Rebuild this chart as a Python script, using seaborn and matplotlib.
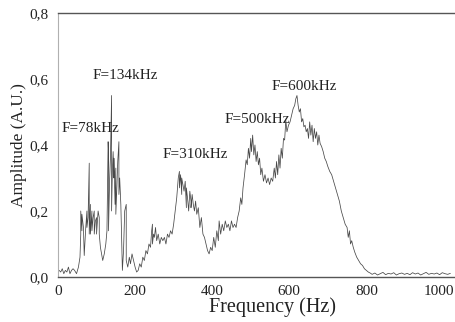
import matplotlib
matplotlib.use("Agg")
import matplotlib.pyplot as plt
import matplotlib.transforms as mtransforms
import seaborn as sns
import pandas as pd

# ---- data ----
freq = [
    3, 7, 11, 15, 19, 23, 27, 31, 35, 39, 43,
    48, 53, 57, 59, 59, 62, 62, 66, 68, 72, 75, 75, 78, 81, 81, 84, 84, 88, 88, 91,
    94, 94, 97, 100, 100, 104, 107, 107, 110, 113, 116, 120, 124,
    127, 130, 131, 131, 134, 136, 139, 139, 141, 143, 145, 145, 148, 150, 150, 153,
    155, 158, 158, 160, 163, 165, 167, 170, 173, 177, 177, 181, 185, 188, 192, 196, 200, 204,
    208, 212, 216, 220, 224, 228, 232, 236, 240, 243, 245, 245, 248, 250, 253, 256,
    260, 264, 268, 272, 276, 280, 284, 288, 292, 296, 300, 304, 308,
    312, 315, 315, 318, 321, 321, 324, 327, 330, 333, 333, 336, 339, 342, 345, 345,
    348, 351, 354, 357, 360, 364, 368, 372, 376, 380, 384, 388, 392, 396, 400,
    404, 408, 412, 416, 418, 422, 426, 430, 434, 438, 442, 446, 450, 454, 458, 462, 466, 470,
    474, 477, 480, 484, 488, 491, 494, 497, 500, 502, 505, 508, 511, 514, 517, 520,
    523, 526, 529, 533, 537, 541, 545, 549, 553, 557,
    561, 564, 567, 570, 573, 576, 579, 582, 585, 588, 591, 594, 598, 602, 606, 610,
    614, 617, 620, 623,
    626, 629, 632, 635, 638, 641, 644, 647, 650, 653, 656, 659, 662, 665, 668, 671,
    674, 677, 680, 684, 688, 692, 696, 700,
    705, 710, 715, 720, 725, 730, 735, 740, 745, 750, 753, 756, 759, 762, 766, 770,
    775, 780, 785, 790, 795, 800, 805, 810,
    815, 822, 829, 836, 843, 850, 857, 864, 871, 878, 885, 892, 899, 906, 913, 920,
    927, 934, 941, 948, 955, 962, 969, 976, 983, 990, 997, 1004, 1011, 1018,
]
amplitude = [
    .02, .015, .025, .01, .02, .015, .03, .01, .02, .025, .02,
    .01, .03, .06, .13, .20, .14, .19, .15, .065, .15, .20, .15, .18, .345, .13, .22, .13, .20, .14, .18,
    .20, .13, .17, .18, .13, .20, .18, .13, .09, .07, .05, .07, .10,
    .14, .41, .38, .14, .30, .36, .55, .20, .32, .38, .30, .36, .22, .33, .19, .28,
    .35, .41, .25, .30, .22, .12, .02, .08, .20, .22, .05, .03, .06, .04, .07, .05, .03, .015,
    .02, .04, .03, .06, .05, .08, .07, .10, .09, .14, .16, .10, .13, .12, .15, .11,
    .13, .10, .12, .11, .12, .10, .13, .12, .14, .13, .16, .20, .24,
    .30, .32, .27, .31, .25, .30, .28, .26, .29, .21, .27, .24, .20, .26, .23, .21,
    .25, .22, .20, .23, .19, .21, .15, .18, .13, .12, .10, .08, .07, .09, .08,
    .12, .09, .14, .11, .17, .13, .16, .14, .17, .15, .16, .14, .17, .15, .16, .15, .18, .20,
    .24, .22, .27, .31, .355, .34, .39, .36, .42, .38, .43, .37, .40, .35, .38, .34,
    .36, .31, .33, .29, .31, .285, .30, .28, .30, .29,
    .33, .30, .35, .31, .37, .33, .39, .36, .42, .415, .475, .44, .46, .47, .49, .51,
    .52, .54, .55, .52,
    .50, .51, .47, .48, .455, .46, .44, .45, .42, .47, .43, .46, .41, .45, .42, .44,
    .40, .43, .405, .395, .38, .36, .35, .335,
    .32, .31, .29, .27, .25, .23, .20, .18, .16, .15, .12, .14, .10, .11, .09, .075,
    .06, .05, .04, .035, .025, .02, .015, .012,
    .008, .012, .006, .01, .014, .007, .011, .009, .013, .006, .01, .012, .008, .011, .007, .013,
    .009, .012, .006, .01, .014, .008, .011, .009, .012, .007, .013, .01, .008, .011,
]

peak_labels = ["F=78kHz", "F=134kHz", "F=310kHz", "F=500kHz", "F=600kHz"]
label_x = [8, 90, 271, 433, 555]
label_y = [0.45, 0.612, 0.37, 0.476, 0.576]

x_ticks = [0, 200, 400, 600, 800, 1000]
y_ticks = [0.0, 0.2, 0.4, 0.6, 0.8]
y_tick_labels = ["0,0", "0,2", "0,4", "0,6", "0,8"]

# ---- plot ----
sns.set_style("white")
plt.rcParams["font.family"] = ["Liberation Serif", "DejaVu Serif"]

fig = plt.figure(figsize=(4.55, 3.22), dpi=100)
ax = fig.add_axes([0.1275, 0.1398, 0.8725, 0.8198])

df = pd.DataFrame({"f": freq, "a": amplitude})
sns.lineplot(data=df, x="f", y="a", estimator=None, sort=False,
             color="#484848", linewidth=0.55, ax=ax)

for t, xx, yy in zip(peak_labels, label_x, label_y):
    ax.text(xx, yy, t, ha="left", va="center", fontsize=11, color="#222222")

ax.set_xlim(0, 1030)
ax.set_ylim(0, 0.8)
ax.set_xticks(x_ticks)
ax.set_yticks(y_ticks)
ax.set_yticklabels(y_tick_labels)
ax.tick_params(axis="both", labelsize=11, colors="#222222", length=3, width=0.8)
ax.tick_params(axis="both", which="both", direction="out")
ax.tick_params(axis="x", length=2, pad=4)

# keep the last x tick label inside the figure
last = ax.get_xticklabels()[-1]
last.set_transform(last.get_transform() +
                   mtransforms.ScaledTranslation(-5 / 100, 0, fig.dpi_scale_trans))

ax.set_xlabel("Frequency (Hz)", fontsize=14.5, color="#222222")
ax.xaxis.set_label_coords(0.54, -0.075)
ax.xaxis.label.set_va("top")
ax.set_ylabel("Amplitude (A.U.)", fontsize=12.5, color="#222222", labelpad=2)

ax.spines["right"].set_visible(False)
ax.spines["top"].set_color("#555555")
ax.spines["top"].set_linewidth(1.0)
ax.spines["bottom"].set_color("#555555")
ax.spines["bottom"].set_linewidth(1.0)
ax.spines["left"].set_color("#b0b0b0")
ax.spines["left"].set_linewidth(0.8)

fig.savefig("out.png", dpi=100)
